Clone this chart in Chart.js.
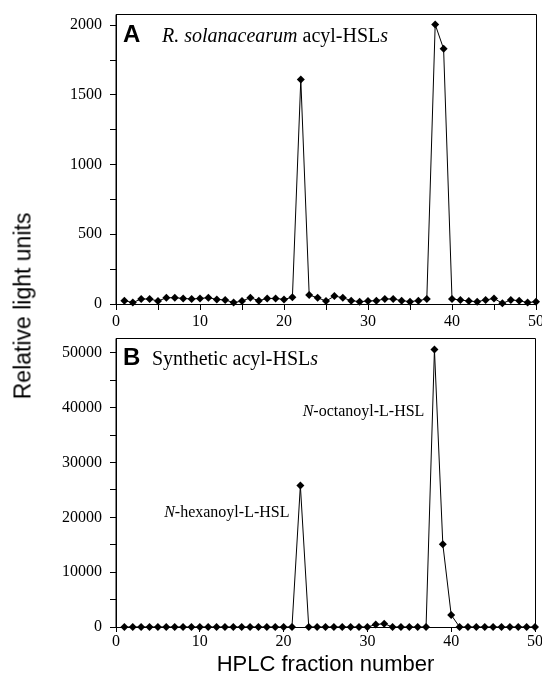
<!DOCTYPE html>
<html>
<head>
<meta charset="utf-8">
<script src="https://cdn.jsdelivr.net/npm/chart.js@4.4.1/dist/chart.umd.min.js"></script>
<style>
  html, body { margin: 0; padding: 0; background: #fff; }
  body { width: 542px; height: 682px; position: relative; overflow: hidden; }
  canvas { position: absolute; left: 0; }
  #ytitle {
    position: absolute; left: 23px; top: 306px;
    transform: translate(-50%, -50%) rotate(-90deg);
    font-family: "Liberation Sans", Arial, sans-serif; font-size: 23px; color: #000;
    white-space: nowrap;
  }
</style>
</head>
<body>
<canvas id="top" width="542" height="334" style="top:0;width:542px;height:334px"></canvas>
<canvas id="bottom" width="542" height="352" style="top:330px;width:542px;height:352px"></canvas>
<div id="ytitle">Relative light units</div>
<script>
// ---- data ----
const fractions = [1,2,3,4,5,6,7,8,9,10,11,12,13,14,15,16,17,18,19,20,21,22,23,24,25,26,27,28,29,30,31,32,33,34,35,36,37,38,39,40,41,42,43,44,45,46,47,48,49,50];
const solanacearumValues = [24,10,36,36,21,45,45,40,36,40, 45,33,29,10,21,45,24,40,40,33, 48,1610,64,45,21,57,45,24,17,21, 24,36,36,24,17,24,36,2005,1830,36, 29,21,17,29,40,5,29,24,10,17];
const syntheticValues = [0,0,0,0,0,0,0,0,0,0, 0,0,0,0,0,0,0,0,0,0, 0,25800,0,0,0,0,0,0,0,0, 450,600,0,0,0,0,0,50600,15100,2200, 0,0,0,0,0,0,0,0,0,0];
// tick positions (all marks) and labelled ticks
const topXTicks = [0,5,10,15,20,25,30,35,40,45,50];
const bottomXTicks = [0,10,20,30,40,50];
const xTickLabels = [0,10,20,30,40,50];
const topYTicks = [0,250,500,750,1000,1250,1500,1750,2000];
const topYTickLabels = [0,500,1000,1500,2000];
const bottomYTicks = [0,5000,10000,15000,20000,25000,30000,35000,40000,45000,50000];
const bottomYTickLabels = [0,10000,20000,30000,40000,50000];
const topPanelLetter = "A";
const bottomPanelLetter = "B";
const xTitle = "HPLC fraction number";
// annotation anchors (data coordinates of right end / baseline)
const annotations = [
  { parts: [["italic","N"],["normal","-octanoyl-L-HSL"]], x: 36.8, y: 38400 },
  { parts: [["italic","N"],["normal","-hexanoyl-L-HSL"]], x: 20.7, y: 20000 }
];

const SERIF = '"Liberation Serif", "Times New Roman", serif';
const SANS = '"Liberation Sans", Arial, sans-serif';

function toPoints(vals) { return fractions.map((f, i) => ({ x: f, y: vals[i] })); }

function drawParts(ctx, parts, x, y, size, align) {
  let widths = parts.map(p => { ctx.font = (p[0] === 'italic' ? 'italic ' : '') + size + 'px ' + SERIF; return ctx.measureText(p[1]).width; });
  let total = widths.reduce((a, b) => a + b, 0);
  let cx = align === 'right' ? x - total : x;
  ctx.textBaseline = 'alphabetic';
  ctx.textAlign = 'left';
  parts.forEach((p, i) => {
    ctx.font = (p[0] === 'italic' ? 'italic ' : '') + size + 'px ' + SERIF;
    ctx.fillText(p[1], cx, y);
    cx += widths[i];
  });
}

function framePlugin(opts) {
  return {
    id: 'frame',
    afterDraw(chart) {
      const ctx = chart.ctx, a = chart.chartArea;
      ctx.save();
      ctx.strokeStyle = '#000';
      ctx.lineWidth = 1;
      ctx.beginPath();
      ctx.moveTo(a.left, a.bottom + 0.5);
      ctx.lineTo(a.left, a.top + 0.5);
      ctx.lineTo(a.right + 0.5, a.top + 0.5);
      ctx.lineTo(a.right + 0.5, a.bottom);
      ctx.stroke();
      ctx.fillStyle = '#000';
      ctx.font = 'bold 24px ' + SANS;
      ctx.textBaseline = 'alphabetic';
      ctx.textAlign = 'left';
      ctx.fillText(opts.letter, a.left + 7, a.top + opts.letterDy);
      drawParts(ctx, opts.title, a.left + opts.titleDx, a.top + opts.letterDy, 20, 'left');
      if (opts.annotations) {
        const xs = chart.scales.x, ys = chart.scales.y;
        opts.annotations.forEach(an => {
          drawParts(ctx, an.parts, xs.getPixelForValue(an.x), ys.getPixelForValue(an.y), 16, 'right');
        });
      }
      ctx.restore();
    }
  };
}

function makeChart(id, vals, cfg) {
  return new Chart(document.getElementById(id), {
    type: 'line',
    data: {
      datasets: [{
        data: toPoints(vals),
        borderColor: '#000',
        backgroundColor: '#000',
        borderWidth: 1,
        pointStyle: 'rectRot',
        pointRadius: 4,
        pointHoverRadius: 4,
        pointBackgroundColor: '#000',
        pointBorderColor: '#000',
        pointBorderWidth: 0,
        tension: 0,
        clip: false
      }]
    },
    options: {
      responsive: false,
      animation: false,
      events: [],
      layout: { padding: cfg.padding },
      plugins: { legend: { display: false }, tooltip: { enabled: false } },
      scales: {
        x: {
          type: 'linear', min: 0, max: 50,
          afterBuildTicks(s) { s.ticks = cfg.xTicks.map(v => ({ value: v })); },
          afterFit(s) { s.height = cfg.xHeight; s.paddingLeft = 0; s.paddingRight = 0; s.paddingTop = 0; s.paddingBottom = 0; },
          grid: { drawOnChartArea: false, drawTicks: true, tickLength: cfg.xTickLen, color: '#000' },
          border: { display: true, color: '#000', width: 1 },
          ticks: {
            autoSkip: false, maxRotation: 0,
            color: '#000', padding: cfg.xPad,
            font: { family: SERIF, size: 16 },
            callback: v => xTickLabels.includes(v) ? String(v) : ''
          },
          title: cfg.xTitle ? {
            display: true, text: xTitle, color: '#000',
            font: { family: SANS, size: 22 }, padding: { top: 0, bottom: 4 }
          } : { display: false }
        },
        y: {
          type: 'linear', min: 0, max: cfg.yMax,
          afterBuildTicks(s) { s.ticks = cfg.yTicks.map(v => ({ value: v })); },
          afterFit(s) { s.width = 116; s.paddingTop = 0; s.paddingBottom = 0; s.paddingLeft = 0; s.paddingRight = 0; },
          grid: { drawOnChartArea: false, drawTicks: true, tickLength: 6, color: '#000' },
          border: { display: true, color: '#000', width: 1 },
          ticks: {
            autoSkip: false,
            color: '#000', padding: 8,
            font: { family: SERIF, size: 16 },
            callback: v => cfg.yLabels.includes(v) ? String(v) : ''
          }
        }
      }
    },
    plugins: [framePlugin(cfg.frame)]
  });
}

makeChart('top', solanacearumValues, {
  padding: { top: 14, right: 6, left: 0, bottom: 0 },
  xHeight: 30, xTickLen: 6, xPad: 2, xTicks: topXTicks, xTitle: false,
  yMax: 2080, yTicks: topYTicks, yLabels: topYTickLabels,
  frame: { letter: topPanelLetter, letterDy: 28, titleDx: 46,
           title: [["italic","R. solanacearum"],["normal"," acyl-HSL"],["italic","s"]] }
});

makeChart('bottom', syntheticValues, {
  padding: { top: 8, right: 7, left: 0, bottom: 0 },
  xHeight: 55, xTickLen: 5, xPad: 0, xTicks: bottomXTicks, xTitle: true,
  yMax: 52700, yTicks: bottomYTicks, yLabels: bottomYTickLabels,
  frame: { letter: bottomPanelLetter, letterDy: 27, titleDx: 36,
           title: [["normal","Synthetic acyl-HSL"],["italic","s"]],
           annotations: annotations }
});
</script>
</body>
</html>
